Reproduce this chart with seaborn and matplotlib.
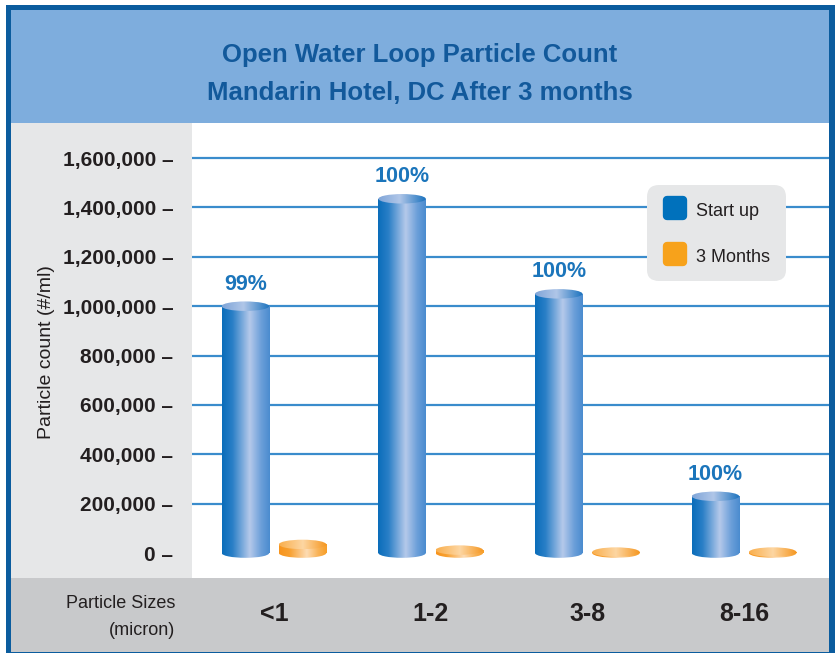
import seaborn as sns
import pandas as pd
import matplotlib.pyplot as plt
import numpy as np
from matplotlib.patches import Rectangle, Ellipse
from matplotlib.lines import Line2D
from matplotlib.markers import MarkerStyle
from matplotlib.colors import LinearSegmentedColormap

# values
sizes = ["<1", "1-2", "3-8", "8-16"]
start_up = [1000000, 1435000, 1050000, 230000]
three_months = [35000, 12000, 4000, 4000]
reduction = ["99%", "100%", "100%", "100%"]
series = ["Start up", "3 Months"]
y_ticks = [0, 200000, 400000, 600000, 800000, 1000000, 1200000, 1400000, 1600000]

df = pd.DataFrame({
    "size": sizes * 2,
    "count": start_up + three_months,
    "series": [series[0]] * len(sizes) + [series[1]] * len(sizes),
})

sans = ["Liberation Sans", "DejaVu Sans"]
dark = "#231f20"
blue = "#0071bc"
orange = "#f7a21b"

sns.set_style("white")
plt.rcParams["font.family"] = sans

W, H = 835, 653
fig = plt.figure(figsize=(W / 100, H / 100), dpi=100)


def px_box(x0, y0, x1, y1):
    # pixel box (top-left origin) -> [left, bottom, width, height] in figure fraction
    return [x0 / W, 1 - y1 / H, (x1 - x0) / W, (y1 - y0) / H]


def band(x0, y0, x1, y1, color):
    l, b, w, h = px_box(x0, y0, x1, y1)
    fig.add_artist(Rectangle((l, b), w, h, transform=fig.transFigure,
                             facecolor=color, edgecolor="none", zorder=-5))


# frame and background panels
band(6, 5, 835, 653, "#0b5c9e")
band(11, 10, 829, 123, "#7eaddd")
band(11, 123, 192, 578, "#e6e7e8")
band(11, 578, 829, 652, "#c8c9cb")

ax = fig.add_axes(px_box(192, 123, 829, 578))
ax.set_facecolor("white")

sns.barplot(data=df, x="size", y="count", hue="series", palette=[blue, orange],
            width=0.73, gap=0.17, saturation=1, errorbar=None, legend=False, ax=ax)

ymin, ymax = -101000, 1742000
ax.set_xlim(-0.523, 3.542)
ax.set_ylim(ymin, ymax)

# cylinder look: gradient bodies with elliptical caps
blue_body = LinearSegmentedColormap.from_list(
    "bb", [(0, "#0a6dba"), (0.22, "#2a7fc7"), (0.58, "#b5c9ea"), (0.82, "#6b9fd9"), (1, "#4a8bcf")])
blue_top = LinearSegmentedColormap.from_list(
    "bt", [(0, "#7fa5d8"), (0.45, "#b0c6e8"), (1, "#1a72be")])
orange_body = LinearSegmentedColormap.from_list(
    "ob", [(0, "#f7941d"), (0.22, "#f8a030"), (0.58, "#fddcb4"), (0.82, "#f9b255"), (1, "#f79e28")])
orange_top = LinearSegmentedColormap.from_list(
    "ot", [(0, "#f9ae4c"), (0.5, "#fdd6a2"), (1, "#f5961f")])

grad = np.linspace(0, 1, 256).reshape(1, -1)
cap = 9.5 * (ymax - ymin) / 455

for bars, body_cmap, top_cmap in zip(ax.containers, [blue_body, orange_body], [blue_top, orange_top]):
    for bar in bars:
        x0, w, h = bar.get_x(), bar.get_width(), bar.get_height()
        cx = x0 + w / 2
        bar.set_facecolor("none")
        bar.set_edgecolor("none")
        base = Ellipse((cx, 0), w, cap, facecolor="none", edgecolor="none")
        ax.add_patch(base)
        for clip in (bar, base):
            im = ax.imshow(grad, extent=[x0, x0 + w, -cap / 2, h], aspect="auto",
                           cmap=body_cmap, interpolation="bilinear", zorder=2)
            im.set_clip_path(clip)
        top = Ellipse((cx, h), w, cap, facecolor="none", edgecolor="none")
        ax.add_patch(top)
        im = ax.imshow(grad, extent=[x0, x0 + w, h - cap / 2, h + cap / 2], aspect="auto",
                       cmap=top_cmap, interpolation="bilinear", zorder=3)
        im.set_clip_path(top)

# reduction labels over the start-up bars
for bar, txt in zip(ax.containers[0], reduction):
    ax.annotate(txt, (bar.get_x() + bar.get_width() / 2, bar.get_height()),
                xytext=(0, 12), textcoords="offset points", ha="center", va="baseline",
                fontsize=15.5, fontweight="bold", color="#1b75bb")

ax.set_xlim(-0.523, 3.542)
ax.set_ylim(ymin, ymax)

# axes, ticks, grid
ax.set_yticks(y_ticks, labels=[f"{v:,} \u2013" for v in y_ticks])
ax.tick_params(axis="y", length=0, pad=13.5, labelsize=15, labelcolor=dark)
for t in ax.get_yticklabels():
    t.set_fontweight("bold")
ax.set_xticks(range(len(sizes)), labels=sizes)
ax.tick_params(axis="x", length=0, pad=17, labelsize=18, labelcolor=dark)
for t in ax.get_xticklabels():
    t.set_fontweight("bold")

ax.yaxis.grid(True, color="#3a8ccc", lw=1.6)
ax.set_axisbelow(True)
ax.get_ygridlines()[0].set_visible(False)
sns.despine(ax=ax, left=True, bottom=True)

ax.set_xlabel("")
ax.set_ylabel("Particle count (#/ml)", fontsize=14, color=dark)
ax.yaxis.set_label_coords((55 - 192) / 637, 0.497)

fig.text(175 / W, 1 - 617 / H, "Particle Sizes\n(micron)", ha="right", va="center",
         multialignment="right", fontsize=13, color=dark, linespacing=1.8)

fig.text(420 / W, 1 - 74 / H, "Open Water Loop Particle Count\nMandarin Hotel, DC After 3 months",
         ha="center", va="center", fontsize=18.5, fontweight="bold", color="#12599b",
         linespacing=1.72)

# legend with rounded swatches
handles = [Line2D([], [], ls="", marker=MarkerStyle("s", joinstyle="round"), markersize=11,
                  markeredgewidth=6, markerfacecolor=c, markeredgecolor=c)
           for c in [blue, orange]]
leg = ax.legend(handles, series, loc="upper left", bbox_to_anchor=(647 / W, 1 - 185 / H),
                bbox_transform=fig.transFigure, prop={"family": sans, "size": 13},
                frameon=True, facecolor="#e6e7e8", edgecolor="none", framealpha=1,
                borderpad=0.86, labelspacing=1.42, handlelength=1.33, handleheight=1.3,
                handletextpad=0.55, borderaxespad=0)
leg.get_frame().set_boxstyle("round,pad=0,rounding_size=0.65")
for t in leg.get_texts():
    t.set_color(dark)

fig.savefig("out.png", dpi=100)
